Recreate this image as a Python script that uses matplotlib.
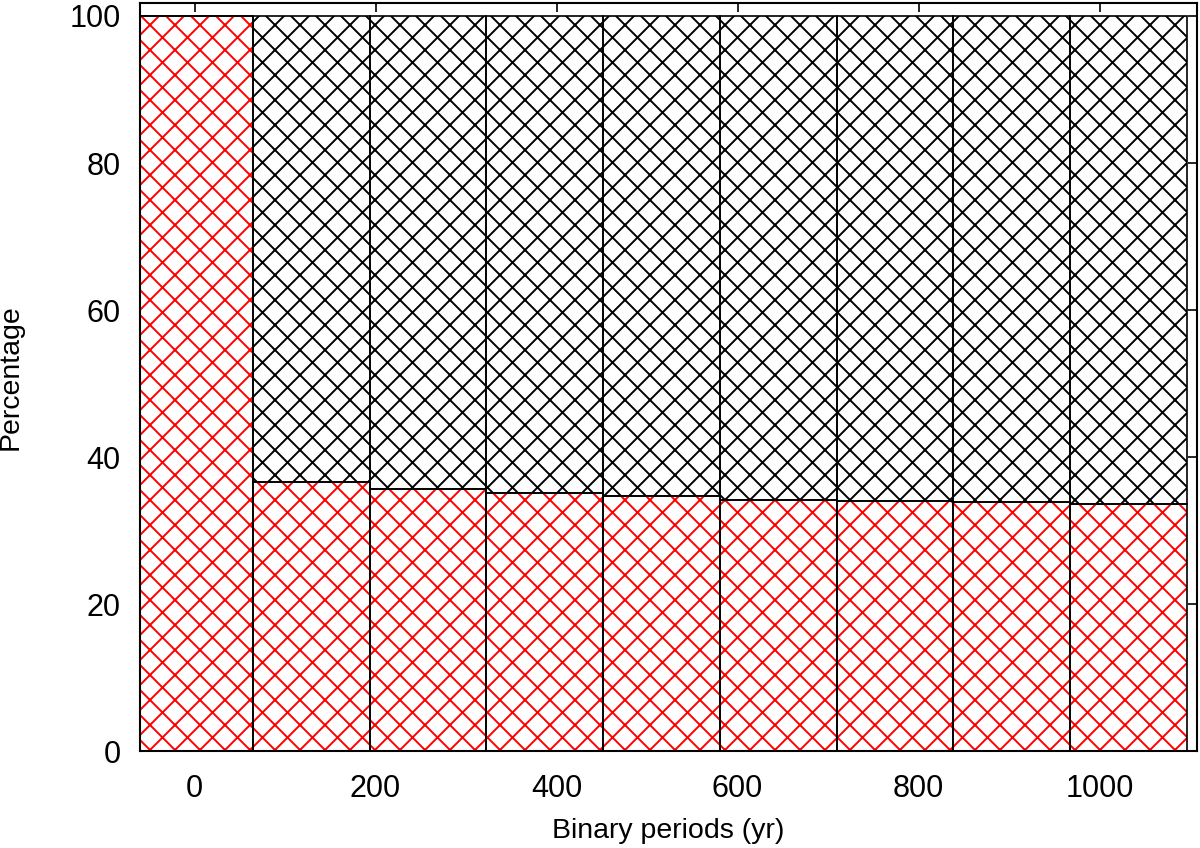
import numpy as np
import matplotlib
matplotlib.use('Agg')
import matplotlib.pyplot as plt

# bar positions (yr) and stacked percentages
periods = [0, 129, 258, 387, 516, 645, 774, 903, 1032]
red_pct = [100, 36.6, 35.65, 35.1, 34.7, 34.2, 34.0, 33.9, 33.65]
black_pct = [100 - r for r in red_pct]
bar_width = 129

xticks = [0, 200, 400, 600, 800, 1000]
yticks = [0, 20, 40, 60, 80, 100]

# render at 75 dpi so the hatch tile is smaller; k rescales point sizes
dpi = 75
k = 100 / dpi

plt.rcParams['font.family'] = ['Liberation Sans', 'DejaVu Sans']
plt.rcParams['hatch.linewidth'] = 1.4 * k

fig = plt.figure(figsize=(1200 / dpi, 848 / dpi), dpi=dpi)
ax = fig.add_axes([0.1167, 0.1138, 0.8808, 0.8827])

# hatched fills (hatch colour follows edgecolor), then black outlines on top
ax.bar(periods, red_pct, width=bar_width, facecolor='white', edgecolor='red',
       hatch='x', linewidth=0, zorder=2)
ax.bar(periods, black_pct, width=bar_width, bottom=red_pct, facecolor='white',
       edgecolor='black', hatch='x', linewidth=0, zorder=2)
ax.bar(periods, red_pct, width=bar_width, facecolor='none', edgecolor='black',
       linewidth=1.2 * k, zorder=3)
ax.bar(periods, black_pct, width=bar_width, bottom=red_pct, facecolor='none',
       edgecolor='black', linewidth=1.2 * k, zorder=3)

ax.set_xlim(-60.2, 1107.7)
ax.set_ylim(0, 101.77)
ax.set_xticks(xticks)
ax.set_yticks(yticks)
ax.set_axisbelow(True)
ax.tick_params(direction='in', length=6.5 * k, width=1.2 * k, labelsize=22 * k,
               top=True, right=True)
ax.tick_params(axis='x', pad=16 * k)
ax.tick_params(axis='y', pad=14 * k)
for s in ax.spines.values():
    s.set_linewidth(1.5 * k)

ax.set_xlabel('Binary periods (yr)', fontsize=20.5 * k)
ax.set_ylabel('Percentage', fontsize=20.5 * k)
ax.xaxis.set_label_coords(0.5, -0.0888)
ax.yaxis.set_label_coords(-0.1097, 0.5)

plt.savefig('out.png', dpi=dpi)
